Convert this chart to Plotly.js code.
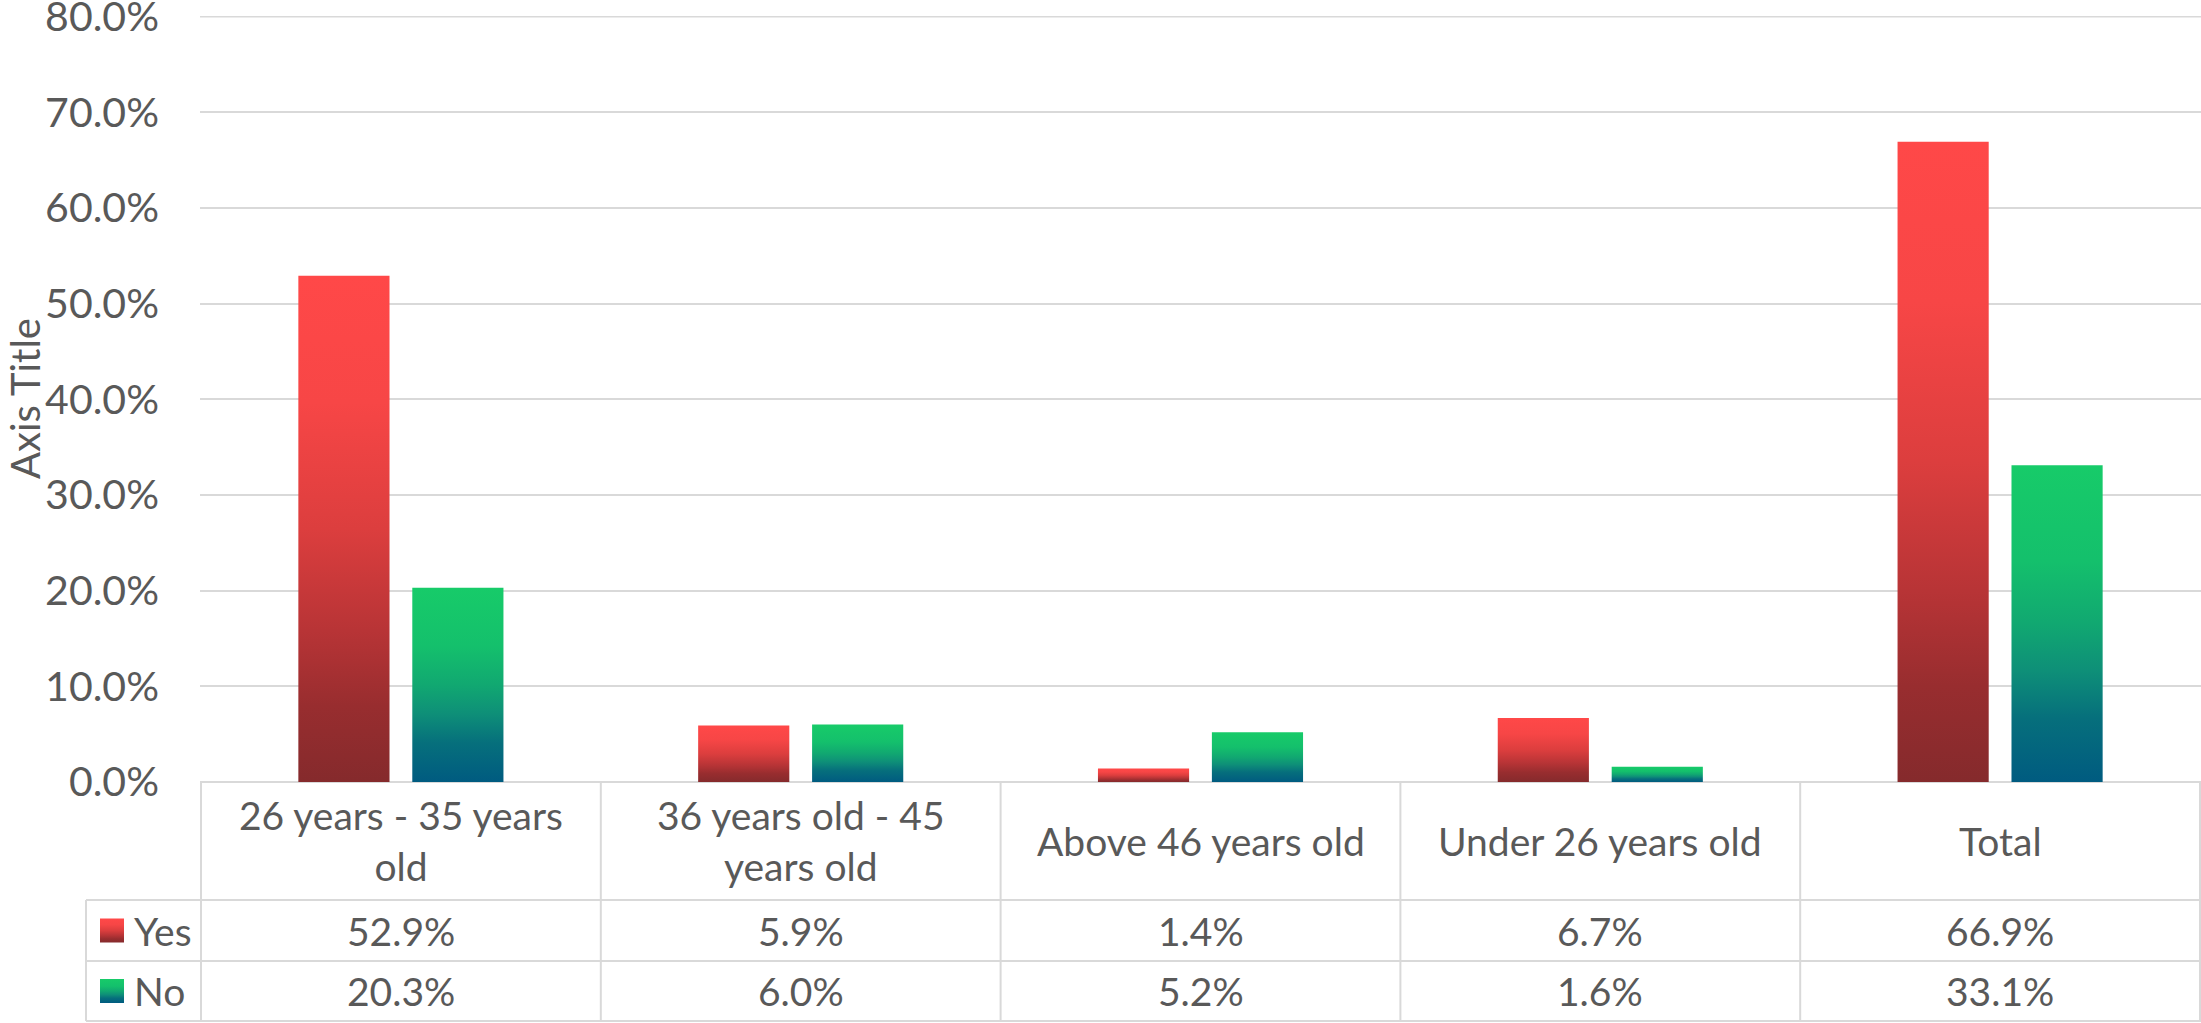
<!DOCTYPE html>
<html>
<head>
<meta charset="utf-8">
<script src="https://cdn.plot.ly/plotly-3.0.1.min.js"></script>
<style>
  html, body { margin: 0; padding: 0; background: #fff; }
  #chart { width: 2201px; height: 1023px; }
</style>
</head>
<body>
<div id="chart"></div>
<script>
// data
const categories = ['26 years - 35 years<br>old', '36 years old - 45<br>years old', 'Above 46 years old', 'Under 26 years old', 'Total'];
const seriesNames = ['Yes', 'No'];
const yesValues = [0.529, 0.059, 0.014, 0.067, 0.669];
const noValues = [0.203, 0.060, 0.052, 0.016, 0.331];
const yTicks = [0, 0.1, 0.2, 0.3, 0.4, 0.5, 0.6, 0.7, 0.8];
const yTitle = 'Axis Title';

const TEXT = '#595959';
const GRID = '#D9D9D9';
const FONT = 'Lato, "Open Sans", sans-serif';

// gradient stops, top -> bottom (Excel style)
const gradients = {
    gradYes: [[0, '#FF4848'], [0.25, '#F74646'], [0.5, '#DC3E3E'], [0.7, '#B83436'], [0.85, '#982D2F'], [1, '#852A2C']],
    gradNo: [[0, '#17CB69'], [0.3, '#14C06C'], [0.5, '#11A871'], [0.65, '#0E8F78'], [0.8, '#066F7C'], [1, '#005B80']]
};

// pixel helpers for the table under the plot (plot area: x 200..2201, y 16..782)
const W = 2201, H = 1023, L = 200, T = 16, B = 782;
const yMax = 0.8005; // a hair above 80% so the top tick is kept
const px = (x) => (x - L) / (W - L);
const py = (y) => (B - y) / (B - T);

const rowHeader = [B, 900];
const rowYes = [900, 961];
const rowNo = [961, 1021];
const legendLeft = 86;

const traces = [
    {
        type: 'bar', name: seriesNames[0], x: categories, y: yesValues,
        marker: { color: '#D83C3C' }, hoverinfo: 'skip'
    },
    {
        type: 'bar', name: seriesNames[1], x: categories, y: noValues,
        marker: { color: '#10A672' }, hoverinfo: 'skip'
    }
];

const shapes = [];
const line = { color: GRID, width: 2 };
// top grid line (plotly drops the one at the very edge)
shapes.push({ type: 'line', xref: 'paper', yref: 'y', x0: 0, x1: 1, y0: yTicks[yTicks.length - 1], y1: yTicks[yTicks.length - 1], line: line, layer: 'below' });
// horizontal table lines
[rowHeader[1], rowYes[1], rowNo[1]].forEach((y) => {
    shapes.push({ type: 'line', xref: 'paper', yref: 'paper', x0: px(legendLeft), x1: 1, y0: py(y), y1: py(y), line: line });
});
// vertical lines between categories
for (let i = 0; i <= categories.length; i++) {
    shapes.push({ type: 'line', xref: 'x', yref: 'paper', x0: i - 0.5, x1: i - 0.5, y0: 0, y1: py(rowNo[1]), line: line });
}
// left border of the legend cells
shapes.push({ type: 'line', xref: 'paper', yref: 'paper', x0: px(legendLeft), x1: px(legendLeft), y0: py(rowYes[0]), y1: py(rowNo[1]), line: line });

// legend keys
const keyIndex = shapes.length;
[rowYes, rowNo].forEach((row, k) => {
    const c = (row[0] + row[1]) / 2;
    shapes.push({
        type: 'rect', xref: 'paper', yref: 'paper',
        x0: px(100), x1: px(124), y0: py(c - 12), y1: py(c + 12),
        fillcolor: k === 0 ? '#D83C3C' : '#10A672', line: { width: 0 }
    });
});

const annotations = [];
const cellFont = { family: FONT, size: 39, color: TEXT };
const mid = (row) => py((row[0] + row[1]) / 2);

categories.forEach((cat, i) => {
    annotations.push({ xref: 'x', yref: 'paper', x: i, y: mid(rowHeader), text: cat, showarrow: false, xanchor: 'center', yanchor: 'middle', font: cellFont });
    annotations.push({ xref: 'x', yref: 'paper', x: i, y: mid(rowYes), text: (yesValues[i] * 100).toFixed(1) + '%', showarrow: false, xanchor: 'center', yanchor: 'middle', font: cellFont });
    annotations.push({ xref: 'x', yref: 'paper', x: i, y: mid(rowNo), text: (noValues[i] * 100).toFixed(1) + '%', showarrow: false, xanchor: 'center', yanchor: 'middle', font: cellFont });
});
[rowYes, rowNo].forEach((row, k) => {
    annotations.push({ xref: 'paper', yref: 'paper', x: px(132), y: mid(row), text: seriesNames[k], showarrow: false, xanchor: 'left', yanchor: 'middle', font: cellFont });
});
// y axis title
annotations.push({
    xref: 'paper', yref: 'paper', x: px(25), y: 0.5, text: yTitle, textangle: -90,
    showarrow: false, xanchor: 'center', yanchor: 'middle', font: { family: FONT, size: 40, color: TEXT }
});

const layout = {
    width: W,
    height: H,
    margin: { l: L, r: 0, t: T, b: H - B, pad: 0 },
    paper_bgcolor: '#fff',
    plot_bgcolor: '#fff',
    showlegend: false,
    barmode: 'group',
    bargap: 0.43,
    bargroupgap: 0.2,
    font: { family: FONT, color: TEXT },
    xaxis: { showticklabels: false, showgrid: false, zeroline: false, showline: false, ticks: '', fixedrange: true },
    yaxis: {
        range: [0, yMax], tickmode: 'array', tickvals: yTicks, tickformat: '.1%',
        showgrid: true, gridcolor: GRID, gridwidth: 2,
        zeroline: true, zerolinecolor: GRID, zerolinewidth: 2,
        showline: false, ticks: '', ticklabelstandoff: 40,
        ticklabeloverflow: 'allow',
        tickfont: { family: FONT, size: 41, color: TEXT },
        fixedrange: true
    },
    shapes: shapes,
    annotations: annotations
};

function addGradients(gd) {
    const svg = gd.querySelector('.main-svg');
    let defs = svg.querySelector('defs');
    const ns = 'http://www.w3.org/2000/svg';
    Object.keys(gradients).forEach((id) => {
        if (svg.querySelector('#' + id)) return;
        const g = document.createElementNS(ns, 'linearGradient');
        g.setAttribute('id', id);
        g.setAttribute('x1', '0'); g.setAttribute('y1', '0');
        g.setAttribute('x2', '0'); g.setAttribute('y2', '1');
        gradients[id].forEach((s) => {
            const stop = document.createElementNS(ns, 'stop');
            stop.setAttribute('offset', s[0]);
            stop.setAttribute('stop-color', s[1]);
            g.appendChild(stop);
        });
        defs.appendChild(g);
    });
    const ids = ['gradYes', 'gradNo'];
    gd.querySelectorAll('.barlayer .trace').forEach((tr, i) => {
        tr.querySelectorAll('path').forEach((p) => { p.style.fill = 'url(#' + ids[i] + ')'; });
    });
    // legend keys live in the shape layers, find them by data-index
    gd.querySelectorAll('path[data-index]').forEach((p) => {
        const idx = +p.getAttribute('data-index');
        if (idx === keyIndex) p.style.fill = 'url(#gradYes)';
        if (idx === keyIndex + 1) p.style.fill = 'url(#gradNo)';
    });
}

Plotly.newPlot('chart', traces, layout, { staticPlot: true, displayModeBar: false })
    .then(addGradients);
</script>
</body>
</html>
